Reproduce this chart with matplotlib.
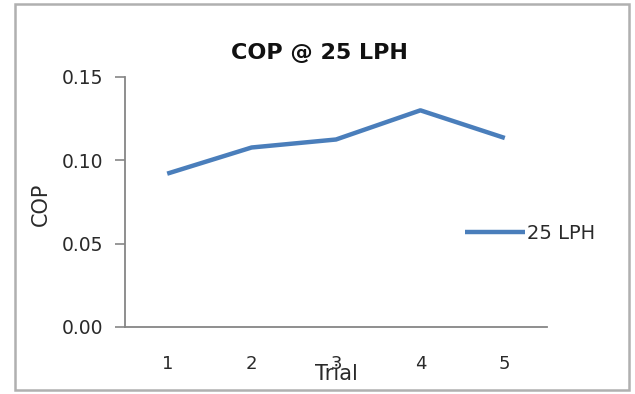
import matplotlib
matplotlib.use("Agg")
import matplotlib.pyplot as plt
from matplotlib.patches import Rectangle

# COP readings for each trial at 25 LPH
trials = [1, 2, 3, 4, 5]
cop_25lph = [0.092, 0.1077, 0.1125, 0.130, 0.1134]
y_ticks = [0.00, 0.05, 0.10, 0.15]

plt.rcParams['font.family'] = ['DejaVu Sans']

fig = plt.figure(figsize=(6.35, 3.94), dpi=100)
fig.patch.set_facecolor('white')

# outer chart-area border
fig.patches.append(Rectangle((15 / 635, 4 / 394), 614 / 635, 386 / 394,
                             transform=fig.transFigure, fill=False,
                             edgecolor='#b0b0b0', linewidth=1.8))

ax = fig.add_axes([125 / 635, 1 - 327 / 394, 422 / 635, 250 / 394])
ax.plot(trials, cop_25lph, color='#4a7ebb', linewidth=3.2,
        solid_capstyle='butt', label='25 LPH')

ax.set_xlim(0.5, 5.5)
ax.set_ylim(0, 0.15)
ax.set_yticks(y_ticks)
ax.set_yticklabels([f"{v:.2f}" for v in y_ticks])
ax.set_xticks(trials)

for side in ['top', 'right']:
    ax.spines[side].set_visible(False)
for side in ['left', 'bottom']:
    ax.spines[side].set_color('#868686')
    ax.spines[side].set_linewidth(1.3)

ax.tick_params(axis='y', length=7, width=1.2, color='#868686',
               labelsize=13.5, labelcolor='#2a2a2a', pad=9)
ax.tick_params(axis='x', length=0, labelsize=13, labelcolor='#2a2a2a', pad=20)

ax.set_title('COP @ 25 LPH', fontsize=16, fontweight='bold',
             color='#111111', pad=13, x=0.46)
ax.set_xlabel('Trial', fontsize=15, color='#2a2a2a')
ax.xaxis.set_label_coords(0.5, -0.15)
ax.set_ylabel('COP', fontsize=15, color='#2a2a2a')
ax.yaxis.set_label_coords(-0.175, 0.49)

leg = ax.legend(loc='center left', bbox_to_anchor=(465 / 635, 1 - 233 / 394),
                bbox_transform=fig.transFigure, frameon=False,
                fontsize=14, handlelength=3.1, handletextpad=0.1,
                borderpad=0, borderaxespad=0)
for t in leg.get_texts():
    t.set_color('#2a2a2a')

fig.savefig('out.png', dpi=100)
